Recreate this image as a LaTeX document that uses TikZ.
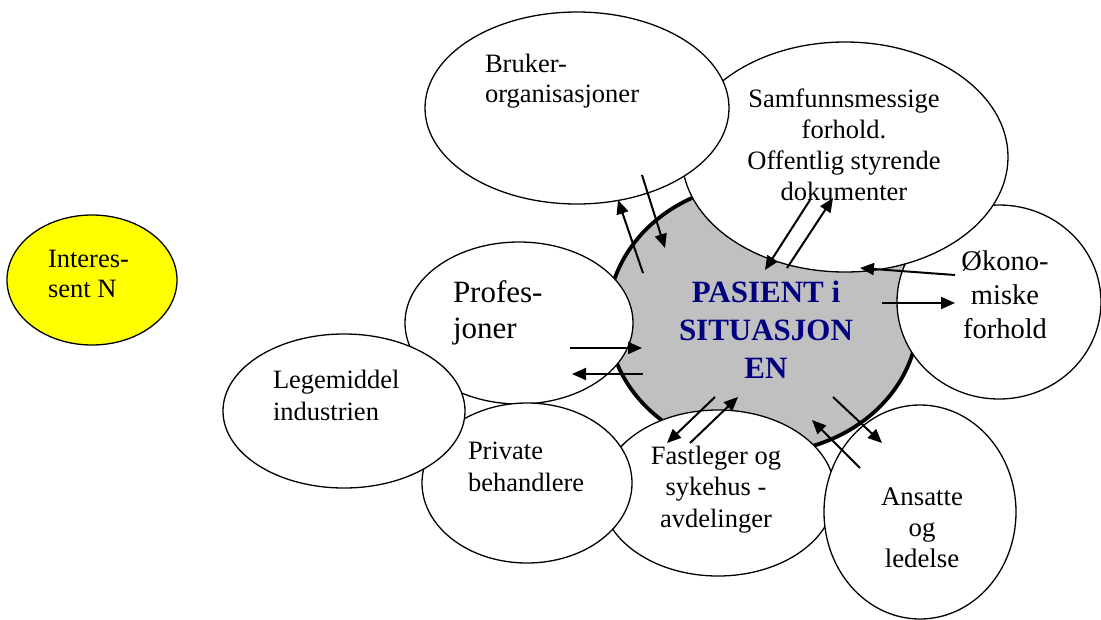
\documentclass[tikz,border=0pt]{standalone}
\usepackage{fontspec}
\setmainfont{Liberation Serif}
\usetikzlibrary{shapes.geometric,arrows.meta}
\definecolor{pgrey}{RGB}{192,192,192}
\definecolor{pnavy}{RGB}{0,0,128}
\definecolor{pyellow}{RGB}{255,255,0}
\begin{document}
\begin{tikzpicture}[x=1pt,y=-1pt,
  bub/.style={ellipse, draw=black, line width=1.3pt, fill=white, inner sep=0pt, outer sep=0pt},
  lbl/.style={inner sep=0pt, outer sep=0pt, font=\fontsize{26.5}{31}\selectfont},
  conn/.style={line width=2pt, -{Triangle[length=14pt,width=12pt]}}]
\path[use as bounding box] (0,0) rectangle (1101,619);

% centre
\node[ellipse, draw=black, line width=3.8pt, fill=pgrey, inner sep=0pt, outer sep=0pt,
      minimum width=310pt, minimum height=270pt] (pas) at (763,318) {};
% surrounding bubbles (drawing order matters)
\node[bub, minimum width=204pt, minimum height=194pt] (okon) at (999,302) {};
\node[bub, minimum width=326pt, minimum height=230pt] (samf) at (845,157) {};
\node[bub, minimum width=304pt, minimum height=192pt] (bruk) at (577,108) {};
\node[bub, minimum width=228pt, minimum height=162pt] (prof) at (519,323) {};
\node[bub, minimum width=234pt, minimum height=166pt] (fast) at (718,493) {};
\node[bub, minimum width=210pt, minimum height=160pt] (priv) at (527,483) {};
\node[bub, minimum width=242pt, minimum height=154pt] (lege) at (344,411) {};
\node[bub, minimum width=192pt, minimum height=214pt] (ans) at (920,512) {};
\node[bub, fill=pyellow, minimum width=170pt, minimum height=130pt] (intn) at (92,280) {};

% labels (anchor=base is the baseline of the last line)
\node[lbl, font=\fontsize{26.5}{30}\selectfont, align=left, anchor=base west] (tbruk) at (485,102) {Bruker-\\organisasjoner};
\node[lbl, align=center, anchor=base] (tsamf) at (844,200) {Samfunnsmessige\\forhold.\\Offentlig styrende\\dokumenter};
\node[lbl, font=\bfseries\fontsize{31}{38}\selectfont, text=pnavy, align=center, anchor=base] (tpas) at (766,378) {PASIENT i\\SITUASJON\\EN};
\node[lbl, font=\fontsize{28.5}{34}\selectfont, align=center, anchor=base] (tokon) at (1005,338) {Økono-\\miske\\forhold};
\node[lbl, font=\fontsize{26.8}{31}\selectfont, align=center, anchor=base] (tans) at (922,567) {Ansatte\\og\\ledelse};
\node[lbl, font=\fontsize{31}{36}\selectfont, align=left, anchor=base west] (tprof) at (453,338) {Profes-\\joner};
\node[lbl, font=\fontsize{26.5}{32}\selectfont, align=left, anchor=base west] (tlege) at (273,420) {Legemiddel\\industrien};
\node[lbl, font=\fontsize{26.5}{32}\selectfont, align=left, anchor=base west] (tpriv) at (468,491) {Private\\behandlere};
\node[lbl, font=\fontsize{26.5}{31.5}\selectfont, align=center, anchor=base] (tfast) at (716,527) {Fastleger og\\sykehus -\\avdelinger};
\node[lbl, font=\fontsize{26.5}{30}\selectfont, align=left, anchor=base west] (tintn) at (48,297) {Interes-\\sent N};

% arrow end points
\coordinate (a1s) at (643,273); \coordinate (a1e) at (618,200);
\coordinate (a2s) at (642,175); \coordinate (a2e) at (665,248);
\coordinate (a3s) at (810,200); \coordinate (a3e) at (765,270);
\coordinate (a4s) at (787,268); \coordinate (a4e) at (833,198);
\coordinate (a5s) at (955,275); \coordinate (a5e) at (860,268);
\coordinate (a6s) at (882,303); \coordinate (a6e) at (955,303);
\coordinate (a7s) at (570,348); \coordinate (a7e) at (642,348);
\coordinate (a8s) at (643,374); \coordinate (a8e) at (572,374);
\coordinate (a9s) at (715,397); \coordinate (a9e) at (667,443);
\coordinate (a10s) at (690,443); \coordinate (a10e) at (738,397);
\coordinate (a11s) at (833,397); \coordinate (a11e) at (882,443);
\coordinate (a12s) at (860,468); \coordinate (a12e) at (812,420);

\foreach \i in {1,...,12} {\draw[conn] (a\i s) -- (a\i e);}
\end{tikzpicture}
\end{document}
